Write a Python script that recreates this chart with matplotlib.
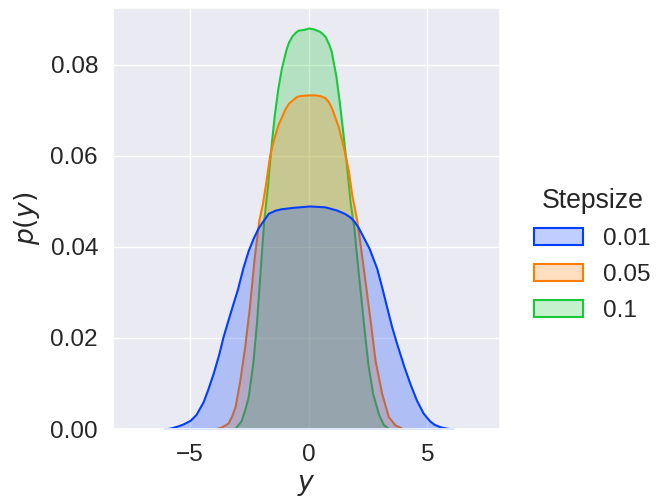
import numpy as np
import matplotlib
matplotlib.use("Agg")
import matplotlib.pyplot as plt
import seaborn as sns
from matplotlib.colors import to_rgba

# density curves (x, p(y)) per step size
x_001 = [-6.1, -5.85, -5.7, -5.5, -5.3, -5.0, -4.75, -4.45, -4.25, -4.03, -3.8, -3.61, -3.4,
         -3.19, -3.0, -2.77, -2.55, -2.35, -2.13, -1.92, -1.7, -1.4, -1.14, -0.65, 0.05,
         0.69, 1.18, 1.5, 1.74, 1.92, 2.09, 2.3, 2.55, 2.87, 3.08, 3.29, 3.5, 3.71, 4.0,
         4.27, 4.55, 4.83, 5.1, 5.3, 5.54, 5.8, 6.1]
y_001 = [0.0, 0.0002, 0.0004, 0.0007, 0.0011, 0.0019, 0.0032, 0.006, 0.0088, 0.0122, 0.0163,
         0.0203, 0.024, 0.0276, 0.0308, 0.0355, 0.0392, 0.0418, 0.0442, 0.0458, 0.0474,
         0.0481, 0.0484, 0.0487, 0.049, 0.0488, 0.0481, 0.0474, 0.0466, 0.0456, 0.0443,
         0.0422, 0.0397, 0.0353, 0.0312, 0.0268, 0.0225, 0.0188, 0.014, 0.0100, 0.0063,
         0.0035, 0.0018, 0.001, 0.0005, 0.0002, 0.0]

x_005 = [-4.0, -3.7, -3.4, -3.25, -3.1, -2.9, -2.7, -2.5, -2.3, -2.1, -1.95, -1.8, -1.65,
         -1.5, -1.3, -1.0, -0.85, -0.5, -0.3, 0.0, 0.3, 0.5, 0.69, 0.83, 0.97, 1.25, 1.46,
         1.67, 1.81, 2.05, 2.3, 2.59, 2.8, 3.08, 3.36, 3.64, 4.0]
y_005 = [0.0, 0.0004, 0.0013, 0.0028, 0.005, 0.0108, 0.018, 0.0268, 0.0375, 0.0459, 0.0495,
         0.0545, 0.06, 0.0633, 0.0668, 0.0703, 0.0716, 0.0731, 0.0733, 0.0734, 0.0734,
         0.0732, 0.0728, 0.0719, 0.0705, 0.0664, 0.062, 0.0569, 0.0517, 0.0452, 0.0355,
         0.0239, 0.0151, 0.0078, 0.0027, 0.0009, 0.0]

x_01 = [-3.4, -3.1, -2.85, -2.7, -2.55, -2.35, -2.2, -2.05, -1.9, -1.75, -1.6, -1.45, -1.3,
        -1.15, -0.95, -0.85, -0.7, -0.55, -0.45, -0.2, 0.0, 0.2, 0.45, 0.55, 0.7, 0.85, 0.95,
        1.15, 1.3, 1.45, 1.6, 1.75, 1.9, 2.05, 2.2, 2.35, 2.5, 2.7, 2.95, 3.15, 3.4]
y_01 = [0.0, 0.0002, 0.0018, 0.0042, 0.0071, 0.0148, 0.0235, 0.0345, 0.0455, 0.0528, 0.0615,
        0.069, 0.0748, 0.0793, 0.0835, 0.085, 0.0864, 0.0872, 0.0876, 0.0878, 0.0881,
        0.0879, 0.0874, 0.087, 0.0862, 0.0845, 0.083, 0.0775, 0.0715, 0.0647, 0.0576,
        0.0498, 0.0445, 0.0365, 0.029, 0.0213, 0.0142, 0.0078, 0.0032, 0.001, 0.0]

labels = ["0.01", "0.05", "0.1"]
series = [(x_001, y_001), (x_005, y_005), (x_01, y_01)]
colors = sns.color_palette("bright", 3)

sns.set_theme(style="darkgrid", font_scale=1.6)
plt.rcParams["font.family"] = ["Liberation Sans", "DejaVu Sans"]
plt.rcParams["mathtext.fontset"] = "dejavusans"

fig = plt.figure(figsize=(6.56, 5.0), dpi=100)
ax = fig.add_axes([0.1727, 0.142, 0.5895, 0.843])

handles = {}
# seaborn draws hue levels in reverse, so the first level ends up on top
for (xs, ys), lab, c in reversed(list(zip(series, labels, colors))):
    h = ax.fill_between(xs, ys, facecolor=to_rgba(c, 0.25), edgecolor=c, linewidth=1.5)
    handles[lab] = h

ax.set_xlim(-8.24, 8.07)
ax.set_ylim(0, 0.0926)
ax.set_xticks([-5, 0, 5])
ax.set_yticks([0, 0.02, 0.04, 0.06, 0.08])
ax.tick_params(axis="both", length=0, pad=11, labelsize=17.6)
ax.set_xlabel("$y$", fontsize=19.2, labelpad=4)
ax.set_ylabel("$p(y)$", fontsize=19.2, labelpad=6)

leg = fig.legend([handles[l] for l in labels], labels, title="Stepsize",
                 loc="center left", bbox_to_anchor=(0.781, 0.49), frameon=False,
                 fontsize=17.6, title_fontsize=19.2, labelspacing=0.57)

fig.savefig("out.png", dpi=100)
